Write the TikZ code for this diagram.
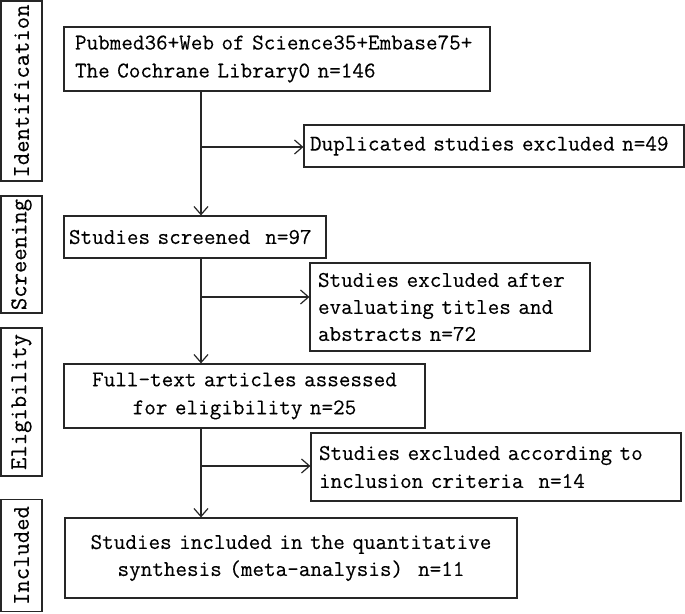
\documentclass[tikz,border=0pt]{standalone}
\usepackage{fontspec}
\newfontfamily\mono{Latin Modern Mono}[FakeBold=0.25]
\usetikzlibrary{arrows.meta}
\begin{document}
\begin{tikzpicture}[x=1pt,y=-1pt,
  box/.style={draw=black!85, line width=1.2pt, inner ysep=0pt, anchor=center,
    font=\mono\fontsize{22.5}{28}\selectfont},
  phase/.style={box, rotate=90, minimum height=41pt, inner xsep=0pt,
    font=\mono\fontsize{24}{28}\selectfont},
  arr/.style={draw=black!85, line width=1.2pt, -{Straight Barb[length=8pt,width=14pt]}}]
\useasboundingbox (0,0) rectangle (685,613);

% phase labels
\node[phase, minimum width=180pt] (idf) at (21.5,91) {Identification};
\node[phase, minimum width=117pt] (scr) at (21.5,254.5) {Screening};
\node[phase, minimum width=148pt] (eli) at (21.5,402) {Eligibility};
\node[phase, minimum width=112pt] (inc) at (21.5,555.5) {Included};

% main boxes
\node[box, inner xsep=11pt, text width=404pt, minimum height=64pt, align=left] (rec) at (277,59)
  {Pubmed36+Web of Science35+Embase75+\\The Cochrane Library0 n=146};
\node[box, inner xsep=6pt, text width=368pt, minimum height=42pt, align=left] (dup) at (494,146)
  {Duplicated studies excluded n=49};
\node[box, inner xsep=5pt, text width=252pt, minimum height=42pt, align=left] (scrn) at (195,237)
  {Studies screened\ \ n=97};
\node[box, inner xsep=8pt, text width=264pt, minimum height=88pt, align=left,
  font=\mono\fontsize{22.5}{27}\selectfont] (ex1) at (450,307)
  {Studies excluded after\\evaluating titles and\\abstracts n=72};
\node[box, inner xsep=8pt, text width=345pt, minimum height=64pt, align=center] (full) at (244.5,396)
  {Full-text articles assessed\\for eligibility n=25};
\node[box, inner xsep=8pt, text width=354pt, minimum height=68pt, align=left] (ex2) at (496,467)
  {Studies excluded according to\\inclusion criteria\ \ n=14};
\node[box, inner xsep=8pt, text width=436pt, minimum height=80pt, align=center,
  font=\mono\fontsize{22.5}{27}\selectfont] (fin) at (291,558)
  {Studies included in the quantitative\\synthesis (meta-analysis)\ \ n=11};

% spine and branch points
\coordinate (sp) at (201,0);
\coordinate (b1) at (201,147);
\coordinate (b2) at (201,297);
\coordinate (b3) at (201,466);

\draw[arr] (rec.south -| sp) -- (scrn.north -| sp);
\draw[arr] (b1) -- (dup.west |- b1);
\draw[arr] (scrn.south -| sp) -- (full.north -| sp);
\draw[arr] (b2) -- (ex1.west |- b2);
\draw[arr] (full.south -| sp) -- (fin.north -| sp);
\draw[arr] (b3) -- (ex2.west |- b3);
\end{tikzpicture}
\end{document}
